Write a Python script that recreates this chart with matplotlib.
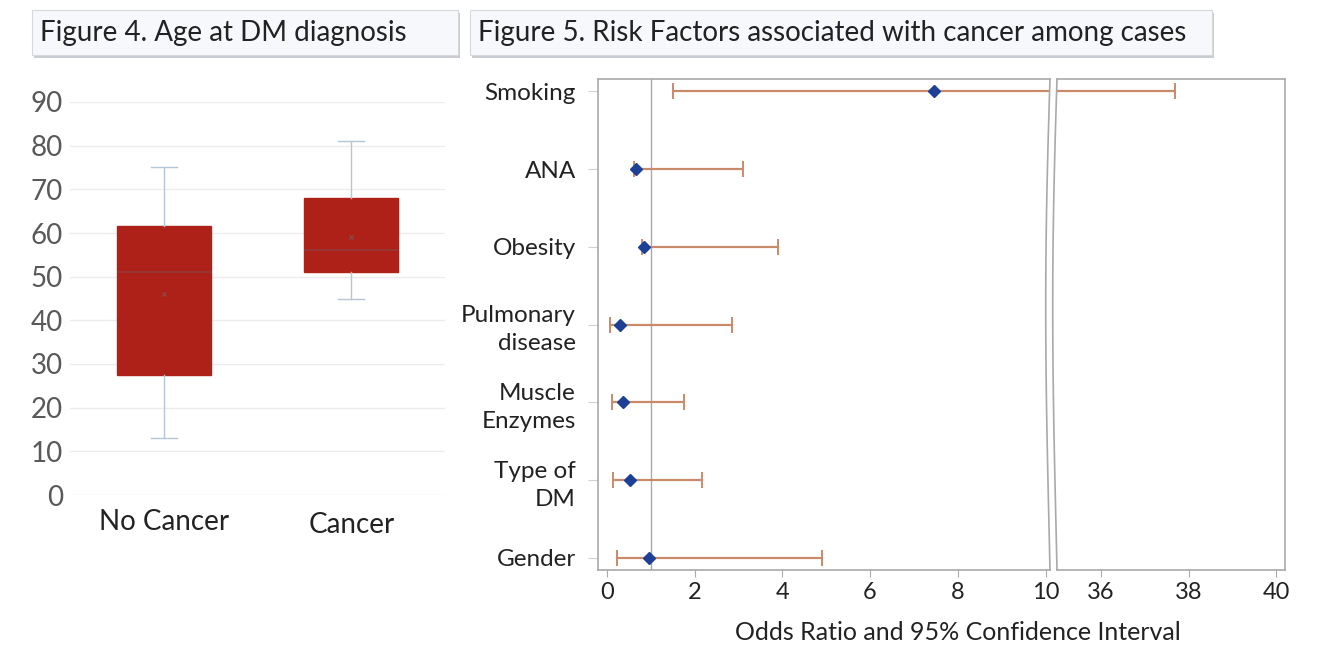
import numpy as np
import matplotlib
matplotlib.use("Agg")
import matplotlib.pyplot as plt
from matplotlib.patches import Rectangle
from matplotlib.lines import Line2D

plt.rcParams['font.family'] = ['Lato', 'DejaVu Sans']

# Figure 4: age at DM diagnosis (box plot stats)
groups = ['No Cancer', 'Cancer']
whislo = [13, 45]
q1 = [27.5, 51]
med = [51, 56]
q3 = [61.5, 68]
whishi = [75, 81]
means = [46, 59]

# Figure 5: odds ratios and 95% CI
factors = ['Smoking', 'ANA', 'Obesity', 'Pulmonary\ndisease', 'Muscle\nEnzymes', 'Type of\nDM', 'Gender']
odds = [7.45, 0.66, 0.84, 0.31, 0.37, 0.53, 0.96]
ci_low = [1.5, 0.63, 0.81, 0.07, 0.11, 0.15, 0.23]
ci_high = [37.7, 3.1, 3.9, 2.85, 1.77, 2.17, 4.9]

W, H = 1328, 658
fig = plt.figure(figsize=(W / 100, H / 100), dpi=100)


def fbox(x0, y0, x1, y1):
    # pixel box -> figure fraction [left, bottom, width, height]
    return [x0 / W, 1 - y1 / H, (x1 - x0) / W, (y1 - y0) / H]


def title_box(x0, y0, x1, y1, text):
    l, b, w, h = fbox(x0, y0, x1, y1)
    sh = Rectangle((l + 2 / W, b - 3 / H), w, h, transform=fig.transFigure,
                   facecolor='#c9ccd1', edgecolor='none', zorder=1)
    fg = Rectangle((l, b), w, h, transform=fig.transFigure,
                   facecolor='#f6f8fb', edgecolor='#d5d8dd', lw=0.8, zorder=2)
    fig.patches.extend([sh, fg])
    fig.text(l + 8 / W, b + h / 2, text, fontsize=20, color='#222222',
             va='center', ha='left', zorder=3)


title_box(32, 10, 458, 55, 'Figure 4. Age at DM diagnosis')
title_box(470, 10, 1212, 55, 'Figure 5. Risk Factors associated with cancer among cases')

# ---- box plot ----
ax1 = fig.add_axes(fbox(70, 102, 445, 495))
stats = []
for i in range(len(groups)):
    stats.append(dict(label=groups[i], whislo=whislo[i], q1=q1[i], med=med[i],
                      q3=q3[i], whishi=whishi[i], mean=means[i], fliers=[]))
ax1.bxp(stats, positions=[0, 1], widths=0.5, capwidths=0.14, patch_artist=True,
        showmeans=True,
        boxprops=dict(facecolor='#ae2119', edgecolor='#ae2119', lw=1),
        medianprops=dict(color='#93383a', lw=1.2),
        whiskerprops=dict(color='#b7c6d6', lw=1),
        capprops=dict(color='#b7c6d6', lw=1),
        meanprops=dict(marker='x', markersize=3.5, markeredgecolor='#8a4a4c', markeredgewidth=0.9))
ax1.set_xlim(-0.5, 1.5)
ax1.set_ylim(0, 90)
ax1.set_yticks(np.arange(0, 91, 10))
ax1.yaxis.grid(True, color='#ececec', lw=1)
ax1.set_axisbelow(True)
for s in ax1.spines.values():
    s.set_visible(False)
ax1.tick_params(axis='y', length=0, labelsize=20, labelcolor='#595959', pad=5)
ax1.tick_params(axis='x', length=0, labelsize=20, labelcolor='#222222', pad=10)
ax1.set_xticks([0, 1])
ax1.set_xticklabels(groups)
ax1.get_xticklabels()[1].set_y(-0.008)

# ---- forest plot with broken axis ----
ypos = np.arange(len(factors))[::-1]
axL = fig.add_axes(fbox(598, 79, 1050, 570))
axR = fig.add_axes(fbox(1057, 79, 1285, 570))
err_col = '#c98a69'
dia_col = '#1d3f96'
for ax in (axL, axR):
    ax.set_ylim(-0.16, 6.16)
    for i in range(len(factors)):
        ax.errorbar(odds[i], ypos[i], xerr=[[odds[i] - ci_low[i]], [ci_high[i] - odds[i]]],
                    fmt='none', ecolor=err_col, elinewidth=1.6, capsize=6, capthick=1.4, zorder=2)
        ax.plot(odds[i], ypos[i], marker='D', markersize=6, color=dia_col, zorder=3, ls='none')
    for s in ax.spines.values():
        s.set_color('#a9a9a9')
        s.set_linewidth(1.2)
    ax.tick_params(axis='x', length=5, color='#a9a9a9', labelsize=17, labelcolor='#222222')

axL.set_xlim(-0.2, 10.1)
axL.set_xticks(np.arange(0, 11, 2))
axL.axvline(1, color='#a9a9a9', lw=1, zorder=1)
axL.set_yticks(ypos)
axL.set_yticklabels(factors)
for t in axL.get_yticklabels():
    t.set_multialignment('right')
    t.set_linespacing(1.4)
axL.tick_params(axis='y', length=7, color='#d0d0d0', labelsize=17.5, labelcolor='#222222', pad=9)
axL.spines['right'].set_visible(False)

axR.set_xlim(35.0, 40.2)
axR.set_xticks([36, 38, 40])
axR.set_yticks([])
axR.spines['left'].set_visible(False)

# curved break marks
t = np.linspace(0, 1, 60)
for x0 in (1050, 1057):
    xs = (x0 - 5 * np.sin(np.pi * t) * (1 - 0.3 * t)) / W
    ys = 1 - (79 + 491 * t) / H
    fig.lines.append(Line2D(xs, ys, transform=fig.transFigure, color='#a9a9a9', lw=1.2))

fig.text(958 / W, 1 - 632 / H, 'Odds Ratio and 95% Confidence Interval', fontsize=18,
         color='#222222', ha='center', va='center')

fig.savefig('out.png', dpi=100)
